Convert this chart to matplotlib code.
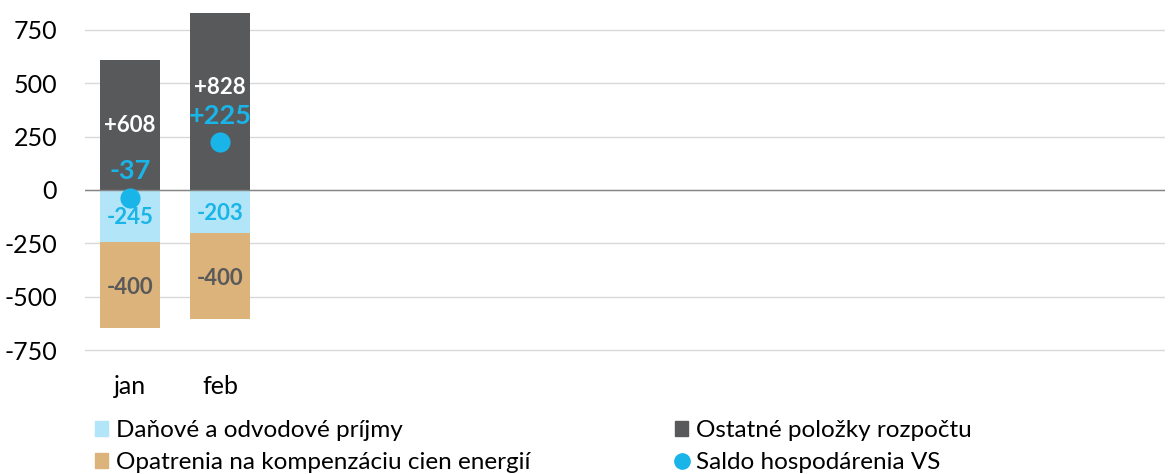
import matplotlib
matplotlib.use("Agg")
import matplotlib.pyplot as plt
from matplotlib.lines import Line2D
from matplotlib.patches import Patch
import numpy as np

plt.rcParams['font.family'] = ['Lato', 'DejaVu Sans']

months = ['jan', 'feb', '', '', '', '', '', '', '', '', '', '']
tax = [-245, -203]          # Daňové a odvodové príjmy
energy = [-400, -400]       # Opatrenia na kompenzáciu cien energií
other = [608, 828]          # Ostatné položky rozpočtu
saldo = [-37, 225]          # Saldo hospodárenia VS
yticks = [-750, -500, -250, 0, 250, 500, 750]

c_tax = '#b1e5f7'
c_energy = '#dbb37b'
c_other = '#58595b'
c_saldo = '#19b4e8'
c_lbl_dark = '#595959'

fig = plt.figure(figsize=(11.69, 4.74), dpi=100)
ax = fig.add_axes([85/1169, 1-365/474, 1080/1169, 365/474])

n = len(tax)
x = np.arange(n)
w = 0.667
tax_a = np.array(tax); en_a = np.array(energy); ot_a = np.array(other); sa_a = np.array(saldo)

ax.bar(x, tax_a, w, color=c_tax, zorder=2)
ax.bar(x, en_a, w, bottom=tax_a, color=c_energy, zorder=2)
ax.bar(x, ot_a, w, color=c_other, zorder=2)
ax.plot(x, sa_a, 'o', color=c_saldo, markersize=14.5, zorder=4, markeredgewidth=0)

other_off = [0, 10]
for i in range(n):
    ax.annotate(f'{tax[i]}', (x[i], tax[i]/2), xytext=(0, -1.2), textcoords='offset points',
                ha='center', va='center', color=c_saldo, fontsize=16, fontweight='bold', zorder=5)
    ax.annotate(f'{energy[i]}', (x[i], tax[i] + energy[i]/2), xytext=(0, -2), textcoords='offset points',
                ha='center', va='center', color=c_lbl_dark, fontsize=16, fontweight='bold', zorder=5)
    ax.annotate(f'+{other[i]}', (x[i], other[i]/2), xytext=(0, other_off[i]), textcoords='offset points',
                ha='center', va='center', color='white', fontsize=16, fontweight='bold', zorder=5)
    lab = f'+{saldo[i]}' if saldo[i] > 0 else f'{saldo[i]}'
    ax.annotate(lab, (x[i], saldo[i]), xytext=(0, 19), textcoords='offset points',
                ha='center', va='center', color=c_saldo, fontsize=19.5, fontweight='bold', zorder=5)

ax.set_xlim(-0.5, len(months) - 0.5)
ax.set_ylim(-820, 890)
ax.set_xticks(np.arange(len(months)))
ax.set_xticklabels(months, fontsize=18)
ax.set_yticks(yticks)
ax.set_yticklabels([str(v) for v in yticks], fontsize=18)
ax.tick_params(axis='y', length=0, pad=20)
ax.tick_params(axis='x', length=0, pad=7)
for s in ax.spines.values():
    s.set_visible(False)
ax.grid(axis='y', color='#d9d9d9', linewidth=1, zorder=0)
ax.axhline(0, color='#868686', linewidth=1, zorder=3)
ax.set_axisbelow(True)

h_tax = Patch(color=c_tax, label='Daňové a odvodové príjmy')
h_en = Patch(color=c_energy, label='Opatrenia na kompenzáciu cien energií')
h_ot = Patch(color=c_other, label='Ostatné položky rozpočtu')
h_sa = Line2D([], [], marker='o', linestyle='none', color=c_saldo, markersize=11, label='Saldo hospodárenia VS')

kw = dict(frameon=False, fontsize=17.5, handlelength=0.55, handleheight=0.55,
          handletextpad=0.3, labelspacing=0.46, borderpad=0, borderaxespad=0, loc='upper left')
l1 = fig.legend(handles=[h_tax, h_en], bbox_to_anchor=(95/1169, 1-420/474), **kw)
l2 = fig.legend(handles=[h_ot, h_sa], bbox_to_anchor=(675/1169, 1-420/474), **kw)

fig.savefig('out.png', dpi=100)
